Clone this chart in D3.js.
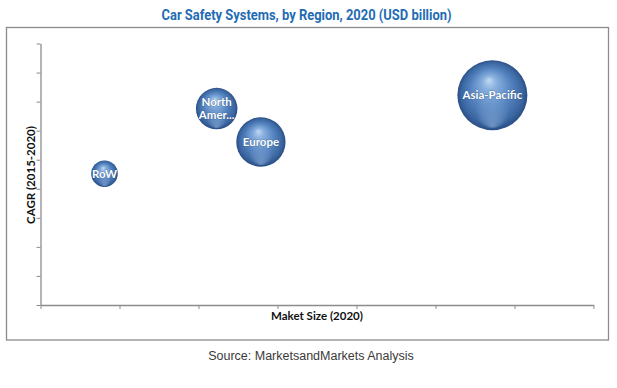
<!DOCTYPE html>
<html>
<head>
<meta charset="utf-8">
<script src="https://cdn.jsdelivr.net/npm/d3@7"></script>
<style>
  html, body { margin: 0; padding: 0; background: #fff; }
  svg { display: block; }
</style>
</head>
<body>
<svg id="chart" width="617" height="388"></svg>
<script>
// ---- data ----
const regions = ["RoW", "North America", "Europe", "Asia-Pacific"];
const bubbleLabels = [["RoW"], ["North", "Amer..."], ["Europe"], ["Asia-Pacific"]];
const marketSize = [0.81, 2.23, 2.79, 5.72];     // x position (Market Size)
const cagr = [4.52, 6.76, 5.61, 7.22];           // y position (CAGR)
const bubbleValue = [1.8, 4.4, 6.2, 12.5];       // bubble size (USD billion)
const xTickValues = [0, 1, 2, 3, 4, 5, 6, 7];
const yTickValues = [0, 1, 2, 3, 4, 5, 6, 7, 8, 9];
const titleText = "Car Safety Systems, by Region, 2020 (USD billion)";
const xAxisTitle = "Maket Size (2020)";
const yAxisTitle = "CAGR (2015-2020)";
const sourceText = "Source: MarketsandMarkets Analysis";

const svg = d3.select("#chart");

// frame
svg.append("rect").attr("x", 6.5).attr("y", 27.5).attr("width", 602).attr("height", 312.5)
  .attr("fill", "none").attr("stroke", "#8c8c8c").attr("stroke-width", 1.3);

// title
svg.append("text").attr("x", 306.5).attr("y", 20).attr("text-anchor", "middle")
  .attr("font-family", "Roboto, 'Liberation Sans Narrow', sans-serif").attr("font-weight", "bold")
  .attr("font-size", 14).attr("fill", "#1f6cb4")
  .attr("textLength", 290).attr("lengthAdjust", "spacingAndGlyphs")
  .text(titleText);

const x = d3.scaleLinear().domain([0, 7]).range([40.5, 593.5]);
const y = d3.scaleLinear().domain([0, 9]).range([305, 43.5]);
const r = d3.scaleSqrt().domain([0, 12.5]).range([0, 35]);

// axes
const xAxis = d3.axisBottom(x).tickValues(xTickValues).tickSize(4).tickSizeOuter(0).tickFormat("");
const yAxis = d3.axisLeft(y).tickValues(yTickValues).tickSize(4).tickSizeOuter(0).tickFormat("");
const gx = svg.append("g").attr("transform", "translate(0,305)").call(xAxis);
const gy = svg.append("g").attr("transform", "translate(40.5,0)").call(yAxis);
[gx, gy].forEach(g => {
  g.selectAll("path").attr("stroke", "#8c8c8c").attr("stroke-width", 1.3);
  g.selectAll("line").attr("stroke", "#8c8c8c").attr("stroke-width", 1);
});

// axis titles
svg.append("text").attr("x", 317).attr("y", 320).attr("text-anchor", "middle")
  .attr("font-family", "Lato, 'Open Sans', sans-serif").attr("font-weight", "bold")
  .attr("font-size", 11.5).attr("fill", "#111").text(xAxisTitle);
svg.append("text").attr("transform", "translate(35,175) rotate(-90)").attr("text-anchor", "middle")
  .attr("font-family", "Lato, 'Open Sans', sans-serif").attr("font-weight", "bold")
  .attr("font-size", 11.5).attr("fill", "#111").text(yAxisTitle);

// source
svg.append("text").attr("x", 311).attr("y", 360).attr("text-anchor", "middle")
  .attr("font-family", "'Liberation Sans', Arial, sans-serif")
  .attr("font-size", 12.5).attr("fill", "#3a3a3a").text(sourceText);

// gradients
const defs = svg.append("defs");
const g1 = defs.append("radialGradient").attr("id", "sphere")
  .attr("cx", "50%").attr("cy", "50%").attr("r", "50%").attr("fx", "45%").attr("fy", "28%");
[[0, "#c2daf4"], [0.2, "#89b0de"], [0.58, "#5483c0"], [0.88, "#3a659f"], [1, "#2a4e86"]]
  .forEach(([o, c]) => g1.append("stop").attr("offset", o).attr("stop-color", c));
const g2 = defs.append("radialGradient").attr("id", "rim")
  .attr("cx", "50%").attr("cy", "50%").attr("r", "50%").attr("fx", "50%").attr("fy", "95%");
[[0, "#9bbbe3", 0.55], [0.5, "#9bbbe3", 0.0], [1, "#9bbbe3", 0]]
  .forEach(([o, c, a]) => g2.append("stop").attr("offset", o).attr("stop-color", c).attr("stop-opacity", a));

const data = regions.map((name, i) => ({ name, lines: bubbleLabels[i], xv: marketSize[i], yv: cagr[i], v: bubbleValue[i] }));

const b = svg.append("g").selectAll("g").data(data).join("g")
  .attr("transform", d => `translate(${x(d.xv)},${y(d.yv)})`);
b.append("circle").attr("r", d => r(d.v)).attr("fill", "url(#sphere)");
b.append("circle").attr("r", d => r(d.v)).attr("fill", "url(#rim)");
b.each(function(d) {
  const t = d3.select(this).append("text").attr("text-anchor", "middle")
    .attr("font-family", "Lato, 'Open Sans', sans-serif").attr("font-weight", "bold")
    .attr("font-size", 11.5).attr("fill", "#fff")
    .attr("stroke", "#2b4f80").attr("stroke-width", 0.5).attr("paint-order", "stroke");
  const n = d.lines.length;
  d.lines.forEach((ln, i) => {
    t.append("tspan").attr("x", 0).attr("y", (i - (n - 1) / 2) * 13 + 4).text(ln);
  });
});
</script>
</body>
</html>
